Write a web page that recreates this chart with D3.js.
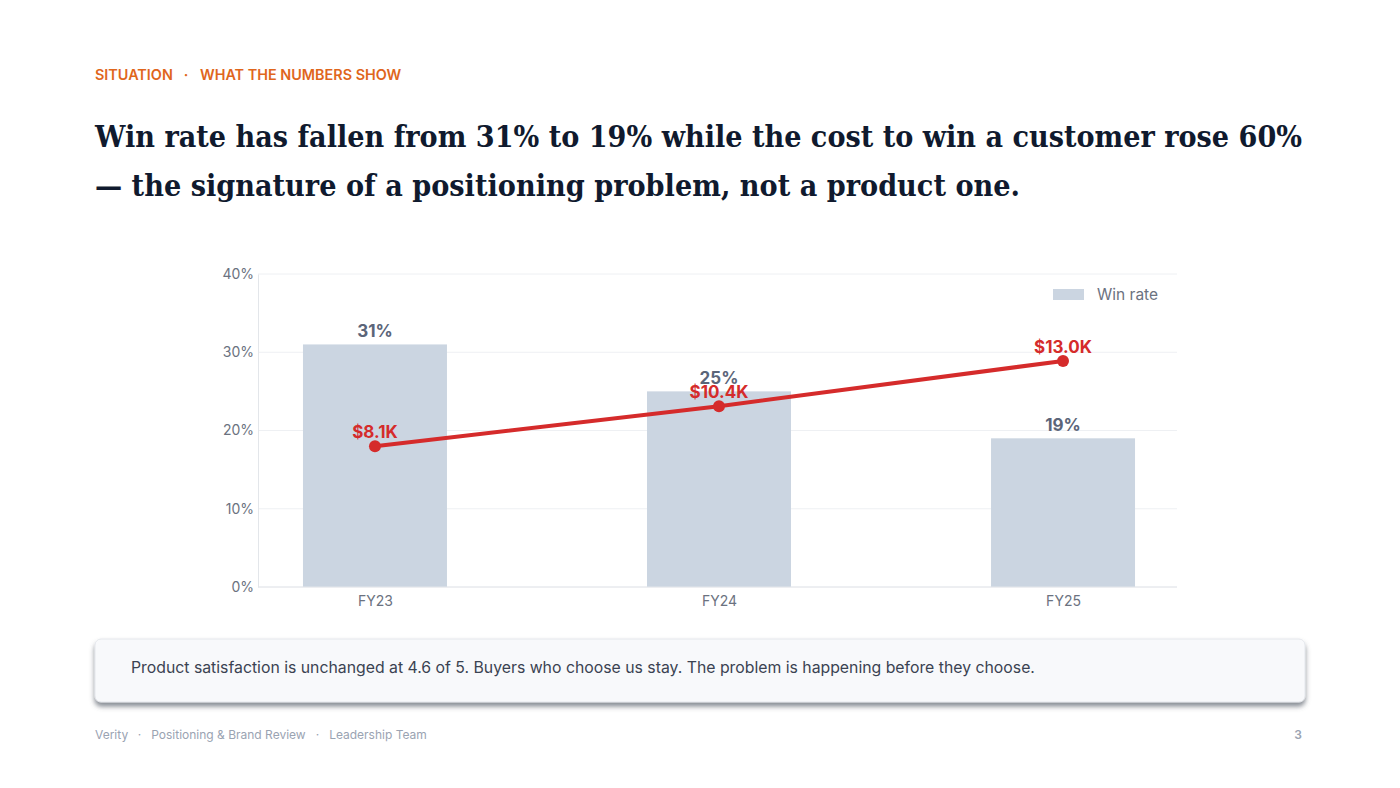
<!DOCTYPE html>
<html><head><meta charset="utf-8">
<script src="https://cdn.jsdelivr.net/npm/d3@7/dist/d3.min.js"></script>
<style>
html,body{margin:0;padding:0;background:#fff;}
body{width:1400px;height:788px;overflow:hidden;font-family:Inter,"Noto Sans",sans-serif;}
</style></head>
<body><svg id="c" width="1400" height="788"></svg>
<script>
const categories = ["FY23","FY24","FY25"];
const winRate = [31,25,19];
const costToWin = [8.1,10.4,13.0];
const costLabels = ["$8.1K","$10.4K","$13.0K"];
const yTicks = [0,10,20,30,40];
const kicker = ["SITUATION","WHAT THE NUMBERS SHOW"];
const titleLines = ["Win rate has fallen from 31% to 19% while the cost to win a customer rose 60%","— the signature of a positioning problem, not a product one."];
const calloutText = "Product satisfaction is unchanged at 4.6 of 5. Buyers who choose us stay. The problem is happening before they choose.";
const footerItems = ["Verity","Positioning & Brand Review","Leadership Team"];
const pageNum = "3";

const svg = d3.select("#c");
const sans = "Inter, 'Noto Sans', sans-serif";

// kicker
const k = svg.append("text").attr("x",95).attr("y",80).attr("font-family",sans)
  .attr("font-size",14.4).attr("font-weight",600).attr("fill","#e0661c");
k.append("tspan").text(kicker[0]);
k.append("tspan").attr("dx",11).text("·");
k.append("tspan").attr("dx",12).text(kicker[1]);

// title
const titleLens = [1207, 925];
titleLines.forEach((t,i)=>{
  svg.append("text").attr("x",95).attr("y",147+i*49).attr("font-family","'DejaVu Serif', serif")
    .attr("font-weight",700).attr("font-size",29).attr("fill","#101a2e")
    .attr("textLength", titleLens[i]).attr("lengthAdjust","spacingAndGlyphs").text(t);
});

// chart
const x0=258,x1=1177,yTop=274,yBot=587;
const x = d3.scalePoint().domain(categories).range([x0,1180]).padding(0.34);
const y = d3.scaleLinear().domain([0,40]).range([yBot,yTop]);
const y2 = d3.scaleLinear().domain([0,18]).range([yBot,yTop]);
const barW = 144;

const g = svg.append("g");
// gridlines
g.selectAll(".grid").data(yTicks).join("line")
  .attr("x1",x0).attr("x2",x1).attr("y1",d=>y(d)).attr("y2",d=>y(d))
  .attr("stroke","#eef0f3").attr("stroke-width",1);

// y axis
const ya = g.append("g").attr("transform",`translate(${x0},0)`)
  .call(d3.axisLeft(y).tickValues(yTicks).tickFormat(d=>d+"%").tickSize(0).tickPadding(4));
ya.select(".domain").attr("stroke","#e3e6ea");
ya.selectAll("text").attr("font-family",sans).attr("font-size",14).attr("fill","#6b7280");

// bars
g.selectAll(".bar").data(categories).join("rect")
  .attr("x",d=>x(d)-barW/2).attr("width",barW)
  .attr("y",(d,i)=>y(winRate[i])).attr("height",(d,i)=>yBot-y(winRate[i]))
  .attr("fill","#cbd5e1");

// x axis
const xa = g.append("g").attr("transform",`translate(0,${yBot})`)
  .call(d3.axisBottom(x).tickSize(0).tickPadding(9));
xa.select(".domain").attr("stroke","#e3e6ea").attr("d",`M${x0},0H${x1}`);
xa.selectAll("text").attr("font-family",sans).attr("font-size",14).attr("fill","#6b7280");

// bar labels
g.selectAll(".bl").data(categories).join("text")
  .attr("x",d=>x(d)).attr("y",(d,i)=>y(winRate[i])-7)
  .attr("text-anchor","middle").attr("font-family",sans).attr("font-size",17).attr("font-weight",700)
  .attr("fill","#5b6579").text((d,i)=>winRate[i]+"%");

// line
const line = d3.line().x(d=>x(d.c)).y(d=>y2(d.v));
const pts = categories.map((c,i)=>({c,v:costToWin[i],l:costLabels[i]}));
g.append("path").datum(pts).attr("d",line).attr("fill","none")
  .attr("stroke","#d52b2b").attr("stroke-width",4);
g.selectAll(".dot").data(pts).join("circle")
  .attr("cx",d=>x(d.c)).attr("cy",d=>y2(d.v)).attr("r",6).attr("fill","#d52b2b");
g.selectAll(".ll").data(pts).join("text")
  .attr("x",d=>x(d.c)).attr("y",d=>y2(d.v)-8)
  .attr("text-anchor","middle").attr("font-family",sans).attr("font-size",17).attr("font-weight",700)
  .attr("fill","#d52b2b").text(d=>d.l);

// legend
svg.append("rect").attr("x",1053).attr("y",289).attr("width",31).attr("height",11).attr("fill","#cbd5e1");
svg.append("text").attr("x",1097).attr("y",300).attr("font-family",sans).attr("font-size",15.5)
  .attr("fill","#6b7280").text("Win rate");

// callout
const defs = svg.append("defs");
const f = defs.append("filter").attr("id","sh").attr("x","-5%").attr("y","-30%").attr("width","110%").attr("height","180%");
f.append("feDropShadow").attr("dx",0).attr("dy",4).attr("stdDeviation",2.5).attr("flood-color","#555b66").attr("flood-opacity",0.7);
svg.append("rect").attr("x",95).attr("y",639).attr("width",1210).attr("height",63).attr("rx",6)
  .attr("fill","#f8f9fb").attr("stroke","#e4e7ec").attr("filter","url(#sh)");
svg.append("text").attr("x",131).attr("y",673).attr("font-family",sans).attr("font-size",15.8)
  .attr("fill","#3b4352").text(calloutText);

// footer
const ft = svg.append("text").attr("x",95).attr("y",739).attr("font-family",sans).attr("font-size",12).attr("fill","#9aa3b2");
footerItems.forEach((t,i)=>{
  if(i>0) ft.append("tspan").attr("dx",10).text("·");
  ft.append("tspan").attr("dx",i>0?10:0).text(t);
});
svg.append("text").attr("x",1302).attr("y",739).attr("text-anchor","end").attr("font-family",sans)
  .attr("font-size",12).attr("font-weight",600).attr("fill","#9aa3b2").text(pageNum);
</script></body></html>
